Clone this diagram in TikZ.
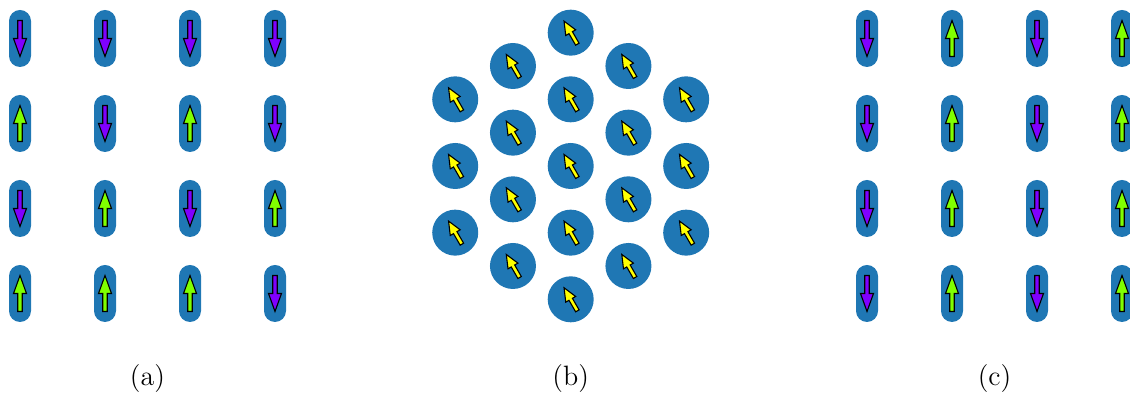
\documentclass[tikz,border=0pt]{standalone}
\usetikzlibrary{calc}
\definecolor{pillblue}{HTML}{1F77B4}
\definecolor{spinpurple}{HTML}{8000FF}
\definecolor{spingreen}{HTML}{80FF00}
\definecolor{spinyellow}{HTML}{FFFF00}
\begin{document}
\begin{tikzpicture}[x=0.5pt, y=0.5pt, every node/.style={font=\fontsize{14}{17}\selectfont},
    pill/.style={fill=pillblue, rounded corners=5.5pt},
    spinarrow/.style={draw=black, line width=0.55pt, miter limit=20},
    arrow shape/.pic={\draw[spinarrow, fill=#1] (-2.25,-18) -- (-2.25,0) -- (-6.5,0) -- (0,18)
        -- (6.5,0) -- (2.25,0) -- (2.25,-18) -- cycle;},
    spin up/.pic={\pic {arrow shape=spingreen};},
    spin down/.pic={\pic[rotate=180] {arrow shape=spinpurple};}]
    \clip (0,0) rectangle (1130,394);
    % (a) random up/down spins
    \foreach \line [count=\j from 0] in {{down,down,down,down},{up,down,up,down},{down,up,down,up},{up,up,up,down}}
        \foreach \s [count=\i from 0] in \line {
            \coordinate (a\i\j) at (20+85*\i, 355.5-85*\j);
            \fill[pill] ($(a\i\j)+(-11,-28.5)$) rectangle ($(a\i\j)+(11,28.5)$);
            \pic at (a\i\j) {spin \s};
        }
    % (b) hexagonal cluster, all spins aligned
    \coordinate (B) at (570.7,228);
    \foreach \i/\js in {-2/{-2,0,2}, -1/{-3,-1,1,3}, 0/{-4,-2,0,2,4}, 1/{-3,-1,1,3}, 2/{-2,0,2}}
        \foreach \j in \js {
            \coordinate (b) at ($(B)+(57.74*\i,33.33*\j)$);
            \fill[pillblue] (b) circle[radius=23];
            \pic[rotate=30, xscale=0.88, yscale=0.74] at (b) {arrow shape=spinyellow};
        }
    % (c) antiferromagnetic columns
    \foreach \j in {0,...,3}
        \foreach \s [count=\i from 0] in {down,up,down,up} {
            \coordinate (c\i\j) at (867+85*\i, 355.5-85*\j);
            \fill[pill] ($(c\i\j)+(-11,-28.5)$) rectangle ($(c\i\j)+(11,28.5)$);
            \pic at (c\i\j) {spin \s};
        }
    \node[anchor=base] (capa) at (147.5,8.3) {(a)};
    \node[anchor=base] (capb) at (570.7,8.3) {(b)};
    \node[anchor=base] (capc) at (994.5,8.3) {(c)};
\end{tikzpicture}
\end{document}
